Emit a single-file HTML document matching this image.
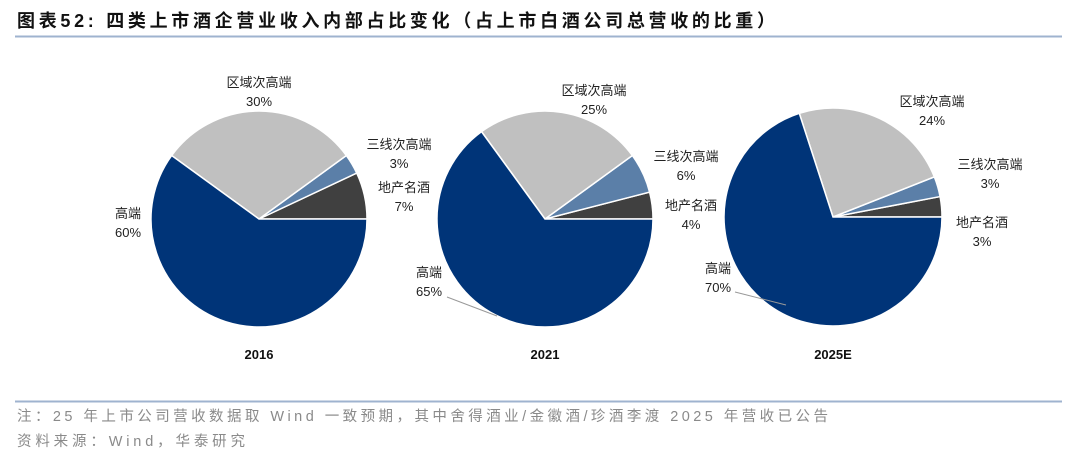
<!DOCTYPE html>
<html><head><meta charset="utf-8">
<style>
body{margin:0;width:1080px;height:459px;background:#fff;overflow:hidden;font-family:"Liberation Sans","Noto Sans CJK SC",sans-serif;}
svg text{font-family:"Liberation Sans","Noto Sans CJK SC",sans-serif;}
</style></head>
<body>
<svg id="chart" width="1080" height="459" xmlns="http://www.w3.org/2000/svg">
<text x="17" y="27" font-size="18" font-weight="bold" fill="#111" textLength="758" lengthAdjust="spacing">图表52:  四类上市酒企营业收入内部占比变化（占上市白酒公司总营收的比重）</text>
<line x1="15" y1="36.5" x2="1062" y2="36.5" stroke="#9fb3cf" stroke-width="2"/>
<line x1="15" y1="401.5" x2="1062" y2="401.5" stroke="#9fb3cf" stroke-width="2"/>
<text x="17" y="421" font-size="14.5" fill="#8a8a8a" textLength="811" lengthAdjust="spacing">注：25 年上市公司营收数据取 Wind 一致预期，其中舍得酒业/金徽酒/珍酒李渡 2025 年营收已公告</text>
<text x="17" y="446" font-size="14.5" fill="#8a8a8a" textLength="228" lengthAdjust="spacing">资料来源：Wind，华泰研究</text>
<g id="pies"></g>
</svg>
<script>
const categories = ["地产名酒","三线次高端","区域次高端","高端"];
const years = ["2016","2021","2025E"];
const values2016 = [7,3,30,60];
const values2021 = [4,6,25,65];
const values2025 = [3,3,24,70];
const colors = ["#404040","#5b7fa8","#c0c0c0","#003478"];
const series = [values2016, values2021, values2025];
const centers = [[259,219,108],[545,219,108],[833,217,109]];
const labelPos = [
 [[404,187],[399,144],[259,82],[128,213]],
 [[691,205],[686,156],[594,90],[429,272]],
 [[982,222],[990,164],[932,101],[718,268]]
];
const leaders = [null,[[447,297],[497,316]],[[735,292],[786,305]]];
const NS="http://www.w3.org/2000/svg";
const g=document.getElementById('pies');
function mk(t,a){const e=document.createElementNS(NS,t);for(const k in a)e.setAttribute(k,a[k]);return e;}
series.forEach((vals,pi)=>{
  const [cx,cy,r]=centers[pi];
  const total=vals.reduce((a,b)=>a+b,0);
  let ang=0;
  vals.forEach((v,i)=>{
    const a0=ang, a1=ang+v/total*2*Math.PI; ang=a1;
    const x0=cx+r*Math.cos(a0), y0=cy-r*Math.sin(a0);
    const x1=cx+r*Math.cos(a1), y1=cy-r*Math.sin(a1);
    const large=(a1-a0)>Math.PI?1:0;
    const p=mk('path',{d:`M${cx},${cy} L${x0},${y0} A${r},${r} 0 ${large} 0 ${x1},${y1} Z`,fill:colors[i],stroke:'#fff','stroke-width':1.5});
    
    
    g.appendChild(p);
    const [lx,ly]=labelPos[pi][i];
    const t1=mk('text',{x:lx,y:ly+5,'font-size':13,'text-anchor':'middle',fill:'#222'});
    t1.textContent=categories[i];
    
    
    g.appendChild(t1);
    const t2=mk('text',{x:lx,y:ly+24,'font-size':13,'text-anchor':'middle',fill:'#222'});
    t2.textContent=v+'%';
    
    
    g.appendChild(t2);
  });
  if(leaders[pi]){
    const [[ax,ay],[bx,by]]=leaders[pi];
    const l=mk('line',{x1:ax,y1:ay,x2:bx,y2:by,stroke:'#999','stroke-width':1});
    
    
    g.appendChild(l);
  }
  const yt=mk('text',{x:cx,y:359,'font-size':13,'font-weight':'bold','text-anchor':'middle',fill:'#111'});
  yt.textContent=years[pi];
  
  
  g.appendChild(yt);
});
</script>
</body></html>
